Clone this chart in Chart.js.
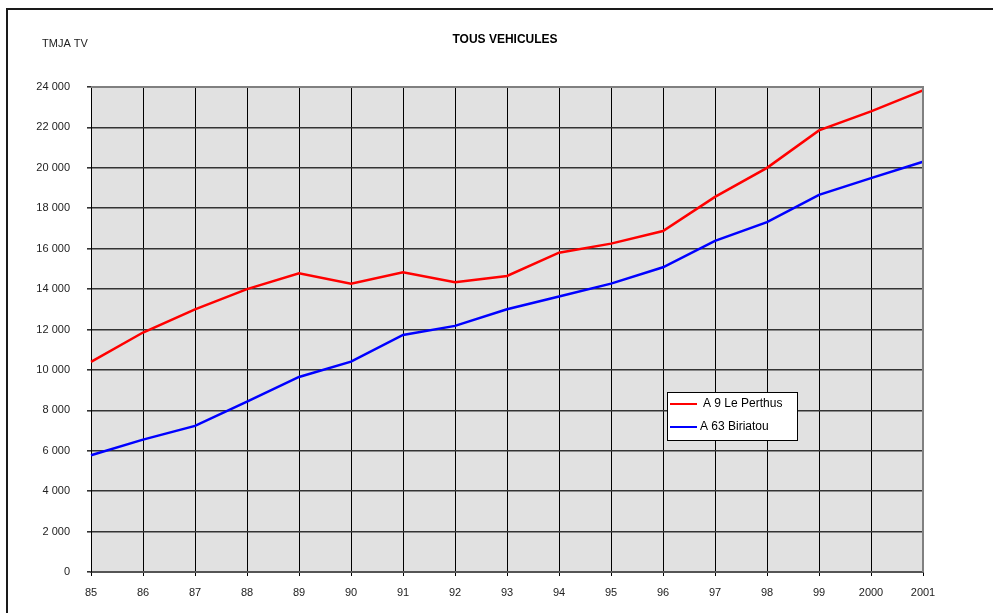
<!DOCTYPE html>
<html>
<head>
<meta charset="utf-8">
<script src="https://cdn.jsdelivr.net/npm/chart.js@4/dist/chart.umd.min.js"></script>
<style>
  html, body { margin: 0; padding: 0; background: #fff; }
  #wrap { width: 993px; height: 613px; position: relative; }
</style>
</head>
<body>
<div id="wrap"><canvas id="trafficChart" width="993" height="613"></canvas></div>
<script>
// annees
const years = ['85', '86', '87', '88', '89', '90', '91', '92', '93', '94', '95', '96', '97', '98', '99', '2000', '2001'];
// TMJA tous vehicules
const perthus = [10400, 11850, 13000, 14000, 14780, 14270, 14830, 14340, 14650, 15800, 16250, 16870, 18560, 20000, 21850, 22790, 23830];
const biriatou = [5780, 6550, 7230, 8430, 9650, 10410, 11730, 12180, 13000, 13630, 14270, 15080, 16390, 17310, 18660, 19490, 20300];
const seriesNames = ['A 9 Le Perthus', 'A 63 Biriatou'];
const yTicks = [0, 2000, 4000, 6000, 8000, 10000, 12000, 14000, 16000, 18000, 20000, 22000, 24000];

const FONT = '"Liberation Sans", Arial, sans-serif';

function fmt(v) {
    return String(v).replace(/\B(?=(\d{3})+(?!\d))/g, ' ');
}

// fond gris + cadre + titres
const framePlugin = {
    id: 'frame',
    beforeDraw(chart) {
        const ctx = chart.ctx;
        const a = chart.chartArea;
        ctx.save();
        ctx.strokeStyle = '#1a1a1a';
        ctx.lineWidth = 2;
        ctx.strokeRect(7, 9, 1000, 700);
        ctx.fillStyle = '#e1e1e1';
        ctx.fillRect(a.left, a.top, a.right - a.left, a.bottom - a.top);

        ctx.fillStyle = '#000';
        ctx.font = 'bold 12px ' + FONT;
        ctx.textAlign = 'center';
        ctx.textBaseline = 'middle';
        ctx.fillText('TOUS VEHICULES', 505, 40);
        ctx.font = '11px ' + FONT;
        ctx.textAlign = 'left';
        ctx.fillStyle = '#222';
        ctx.fillText('TMJA TV', 42, 44);
        ctx.restore();
    },
    afterDatasetsDraw(chart) {
        const ctx = chart.ctx;
        const a = chart.chartArea;
        ctx.save();
        ctx.strokeStyle = '#808080';
        ctx.lineWidth = 2;
        ctx.beginPath();
        ctx.moveTo(a.left, a.top);
        ctx.lineTo(a.right, a.top);
        ctx.lineTo(a.right, a.bottom);
        ctx.stroke();

        // legende
        const lx = 667, ly = 392, lw = 130, lh = 48;
        ctx.fillStyle = '#fff';
        ctx.fillRect(lx, ly, lw, lh);
        ctx.strokeStyle = '#000';
        ctx.lineWidth = 1;
        ctx.strokeRect(lx + 0.5, ly + 0.5, lw, lh);
        ctx.font = '12px ' + FONT;
        ctx.textBaseline = 'middle';
        ctx.textAlign = 'left';
        const textX = [703, 700];
        chart.data.datasets.forEach((ds, i) => {
            const y = ly + 12 + i * 23;
            ctx.strokeStyle = ds.borderColor;
            ctx.lineWidth = 2;
            ctx.beginPath();
            ctx.moveTo(670, y);
            ctx.lineTo(697, y);
            ctx.stroke();
            ctx.fillStyle = '#000';
            ctx.fillText(ds.label, textX[i], y);
        });
        ctx.restore();
    }
};

new Chart(document.getElementById('trafficChart'), {
    type: 'line',
    plugins: [framePlugin],
    data: {
        labels: years,
        datasets: [
            {
                label: seriesNames[0],
                data: perthus,
                borderColor: '#ff0000',
                borderWidth: 2.5,
                pointRadius: 0,
                tension: 0
            },
            {
                label: seriesNames[1],
                data: biriatou,
                borderColor: '#0000ff',
                borderWidth: 2.5,
                pointRadius: 0,
                tension: 0
            }
        ]
    },
    options: {
        responsive: false,
        animation: false,
        events: [],
        layout: {
            padding: { left: 0, top: 87, right: 70, bottom: 0 }
        },
        plugins: {
            legend: { display: false },
            tooltip: { enabled: false },
            title: { display: false }
        },
        scales: {
            x: {
                offset: false,
                afterFit(scale) { scale.height = 41; },
                grid: {
                    color: '#000',
                    lineWidth: 1,
                    tickLength: 4,
                    drawTicks: true
                },
                border: { color: '#555', width: 2 },
                ticks: {
                    color: '#222',
                    font: { family: FONT, size: 11 },
                    padding: 10,
                    maxRotation: 0,
                    autoSkip: false
                }
            },
            y: {
                min: 0,
                max: 24000,
                afterFit(scale) { scale.width = 91; },
                afterBuildTicks(scale) {
                    scale.ticks = yTicks.map(v => ({ value: v }));
                },
                grid: {
                    color: '#333',
                    lineWidth: 1.6,
                    tickLength: 4,
                    drawTicks: true
                },
                border: { color: '#000', width: 1 },
                ticks: {
                    color: '#222',
                    font: { family: FONT, size: 11 },
                    padding: 17,
                    callback: (v) => fmt(v)
                }
            }
        }
    }
});
</script>
</body>
</html>
